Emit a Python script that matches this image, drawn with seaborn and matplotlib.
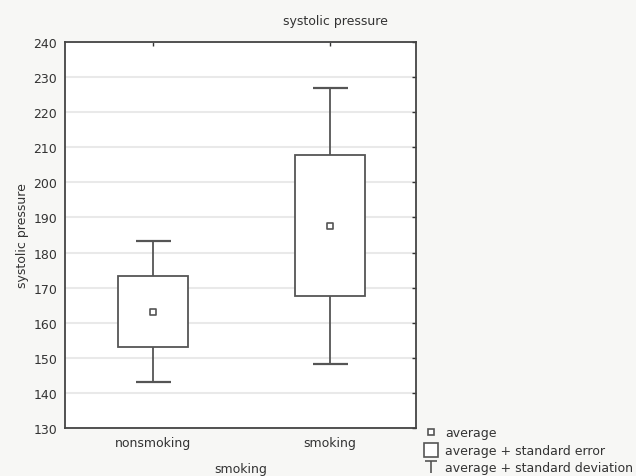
import matplotlib
matplotlib.use("Agg")
import matplotlib.pyplot as plt
from matplotlib.lines import Line2D
from matplotlib.path import Path
import seaborn as sns
import pandas as pd

groups = ["nonsmoking", "smoking"]
means = [163.2, 187.6]
std_err = [10.1, 20.1]
std_dev = [20.0, 39.4]

df = pd.DataFrame({"smoking": groups, "mean": means, "se": std_err, "sd": std_dev})
df["x"] = range(len(df))

sns.set_theme(style="white")
plt.rcParams["font.family"] = ["DejaVu Sans"]

line_col = "#555555"
txt_col = "#333333"
fig = plt.figure(figsize=(6.36, 4.77), dpi=100, facecolor="#f7f7f5")
ax = fig.add_axes([0.1022, 0.1006, 0.5519, 0.8092])
ax.set_facecolor("white")

# whiskers: mean +/- standard deviation
ax.errorbar(df["x"], df["mean"], yerr=df["sd"], fmt="none", ecolor=line_col,
            elinewidth=1.3, capsize=12.6, capthick=1.6, zorder=2)
# boxes: mean +/- standard error
ax.bar(df["x"], 2 * df["se"], bottom=df["mean"] - df["se"], width=0.4,
       color="white", edgecolor=line_col, linewidth=1.3, zorder=3)
# mean markers
sns.scatterplot(data=df, x="x", y="mean", marker="s", s=16, facecolor="white",
                edgecolor=line_col, linewidth=1.2, zorder=4, ax=ax, legend=False)

ax.set_xlim(-0.497, 1.486)
ax.set_ylim(130, 240)
ax.set_yticks(range(130, 241, 10))
ax.set_xticks(df["x"])
ax.set_xticklabels(groups)
ax.yaxis.grid(True, color="#e9e9e9", linewidth=1.5, zorder=0)
ax.set_axisbelow(True)
ax.tick_params(direction="in", length=3, width=1, color=txt_col,
               top=True, right=True, labelcolor=txt_col, labelsize=9)
ax.tick_params(axis="y", pad=5.5)
ax.tick_params(axis="x", pad=6)
for s in ax.spines.values():
    s.set_color("#444444")
    s.set_linewidth(1.3)

ax.set_xlabel("smoking", fontsize=9, color=txt_col, labelpad=9)
ax.set_ylabel("systolic pressure", fontsize=9, color=txt_col, labelpad=3)
fig.text(0.527, 0.955, "systolic pressure", ha="center", va="center",
         fontsize=9, color=txt_col)

t_marker = Path([(-1, 1), (1, 1), (0, 1), (0, -1)],
                [Path.MOVETO, Path.LINETO, Path.MOVETO, Path.LINETO])
handles = [
    Line2D([], [], linestyle="none", marker="s", markersize=4,
           markerfacecolor="white", markeredgecolor=line_col, markeredgewidth=1.2),
    Line2D([], [], linestyle="none", marker="s", markersize=10,
           markerfacecolor="white", markeredgecolor=line_col, markeredgewidth=1.2),
    Line2D([], [], linestyle="none", marker=t_marker, markersize=9,
           markeredgecolor=line_col, markeredgewidth=1.2),
]
labels = ["average", "average + standard error", "average + standard deviation"]
fig.legend(handles, labels, loc="upper left", bbox_to_anchor=(0.67, 0.104),
           frameon=False, fontsize=9, handlelength=0.8, handletextpad=0.7,
           labelspacing=0.36, borderaxespad=0, borderpad=0, labelcolor=txt_col)

fig.savefig("out.png", dpi=100, facecolor=fig.get_facecolor())
